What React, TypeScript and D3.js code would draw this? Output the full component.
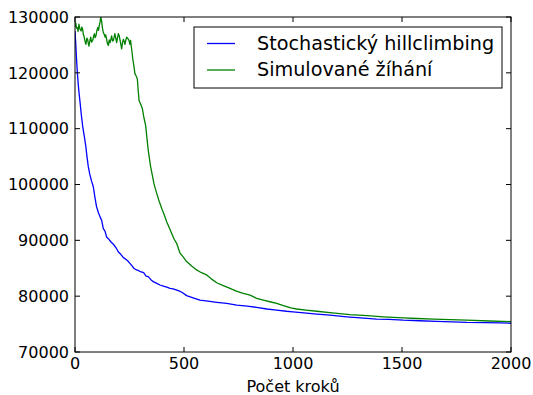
import * as d3 from "d3";

// Stochastic hill climbing: step -> cost
const hillSteps = [
  0, 3, 7, 11, 17, 23, 29, 35, 42, 49, 55, 61, 68, 76, 84, 91, 99, 108, 115, 122,
  130, 138, 145, 153, 165, 176, 191, 199, 210, 222, 233, 245, 258, 270, 282, 290,
  300, 315, 326, 336, 347, 359, 375, 390, 405, 421, 436, 450, 474, 490, 512, 535,
  573, 610, 650, 696, 742, 790, 833, 880, 925, 970, 1000, 1050, 1109, 1170, 1246,
  1310, 1384, 1440, 1506, 1580, 1659, 1730, 1797, 1880, 1950, 2000,
];
const hillCost = [
  127500, 125500, 122500, 119900, 117000, 114800, 112500, 110500, 108800, 107000,
  105000, 103200, 101800, 100600, 99600, 97800, 96000, 94900, 94200, 93600,
  92100, 91600, 90600, 90300, 89700, 89300, 88500, 87900, 87500, 86900,
  86600, 86200, 85600, 85000, 84700, 84600, 84400, 84200, 83600, 83500,
  83000, 82600, 82300, 82000, 81800, 81600, 81400, 81300, 81000, 80700,
  80100, 79800, 79300, 79100, 78900, 78700, 78400, 78200, 78000, 77700,
  77500, 77300, 77200, 77000, 76800, 76600, 76300, 76100, 75900, 75850,
  75700, 75600, 75500, 75400, 75300, 75250, 75200, 75150,
];

// Simulated annealing: step -> cost
const annealSteps = [
  0, 3, 7, 11, 14, 18, 22, 28, 31, 35, 38, 41, 45, 50, 54, 58, 61, 64, 68, 72,
  76, 81, 85, 89, 92, 96, 100, 104, 108, 111, 115, 118, 122, 126, 130, 134, 138,
  141, 145, 149, 153, 157, 161, 165, 168, 172, 176, 180, 183, 187, 191, 195, 199,
  203, 206, 210, 214, 218, 222, 226, 229, 233, 237, 241, 245, 249, 252, 255, 258,
  262, 265, 270, 275, 280, 286, 290, 294, 300, 309, 316, 324, 330, 336, 342, 347,
  355, 362, 368, 375, 386, 398, 410, 421, 433, 444, 455, 467, 482, 497, 512, 535,
  558, 580, 604, 625, 650, 680, 711, 740, 772, 803, 833, 864, 894, 925, 956, 990,
  1017, 1060, 1109, 1180, 1261, 1340, 1414, 1460, 1506, 1570, 1644, 1720, 1797,
  1900, 2000,
];
const annealCost = [
  128200, 129000, 128000, 128100, 127400, 128700, 127900, 127500, 128200, 127800,
  126900, 126600, 125800, 125100, 126200, 126000, 125300, 124800, 125700, 126400,
  125500, 125800, 126500, 127000, 126300, 126600, 127500, 128100, 127600, 128400,
  129100, 130000, 129300, 128000, 127200, 126900, 126400, 126800, 126000, 125200,
  124900, 125900, 125400, 126100, 126600, 125700, 125800, 126500, 127000, 126200,
  125400, 126300, 127000, 126600, 126000, 125200, 124300, 125400, 126000, 125600,
  125100, 125800, 126400, 126200, 126000, 125600, 125100, 125800, 124800, 123600,
  122500, 121300, 119800, 119500, 118900, 116800, 115000, 114500, 113600, 112000,
  110600, 108300, 106100, 104500, 103200, 101600, 100200, 99300, 98400, 97000,
  95700, 94500, 93300, 92200, 91200, 90200, 89400, 87700, 87000, 86200,
  85400, 84700, 84200, 83800, 83100, 82400, 81900, 81400, 80900, 80500,
  80200, 79600, 79300, 79000, 78700, 78300, 77900, 77700, 77500, 77300,
  77000, 76700, 76500, 76300, 76200, 76100, 76000, 75900, 75800, 75700,
  75550, 75450,
];

const xTicks = [0, 500, 1000, 1500, 2000];
const yTicks = [70000, 80000, 90000, 100000, 110000, 120000, 130000];
const seriesNames = ["Stochastický hillclimbing", "Simulované žíhání"];
const xLabel = "Počet kroků";

const W = 533;
const H = 395;
const left = 75;
const right = 511;
const top = 17;
const bottom = 352;
const font = "'DejaVu Sans', sans-serif";

export default function App() {
  const x = d3.scaleLinear().domain([0, 2000]).range([left, right]);
  const y = d3.scaleLinear().domain([70000, 130000]).range([bottom, top]);

  const line = d3
    .line<[number, number]>()
    .x((d) => x(d[0]))
    .y((d) => y(d[1]));

  const hill = line(hillSteps.map((s, i) => [s, hillCost[i]] as [number, number])) ?? "";
  const anneal = line(annealSteps.map((s, i) => [s, annealCost[i]] as [number, number])) ?? "";

  const colors = ["#0000ff", "#008000"];
  const tickLen = 5;

  return (
    <div style={{ position: "absolute", left: 0, top: 0, background: "#fff" }}>
      <svg width={W} height={H} viewBox={`0 0 ${W} ${H}`} fontFamily={font}>
        <rect x={0} y={0} width={W} height={H} fill="#fff" />
        <defs>
          <clipPath id="plot">
            <rect x={left} y={top} width={right - left} height={bottom - top} />
          </clipPath>
        </defs>

        <g clipPath="url(#plot)" fill="none" strokeWidth={1.3} strokeLinejoin="round">
          <path d={hill} stroke={colors[0]} />
          <path d={anneal} stroke={colors[1]} />
        </g>

        {/* ticks, inside on all four sides */}
        <g stroke="#000" strokeWidth={1}>
          {xTicks.map((t) => (
            <g key={`xt${t}`}>
              <line x1={x(t)} x2={x(t)} y1={bottom} y2={bottom - tickLen} />
              <line x1={x(t)} x2={x(t)} y1={top} y2={top + tickLen} />
            </g>
          ))}
          {yTicks.map((t) => (
            <g key={`yt${t}`}>
              <line x1={left} x2={left + tickLen} y1={y(t)} y2={y(t)} />
              <line x1={right} x2={right - tickLen} y1={y(t)} y2={y(t)} />
            </g>
          ))}
        </g>

        <rect
          x={left}
          y={top}
          width={right - left}
          height={bottom - top}
          fill="none"
          stroke="#000"
          strokeWidth={1}
        />

        <g fontSize={16} fill="#000">
          {xTicks.map((t) => (
            <text key={`xl${t}`} x={x(t)} y={bottom + 17} textAnchor="middle">
              {t}
            </text>
          ))}
          {yTicks.map((t) => (
            <text key={`yl${t}`} x={left - 6} y={y(t) + 5.8} textAnchor="end">
              {t}
            </text>
          ))}
          <text x={(left + right) / 2} y={391.5} textAnchor="middle">
            {xLabel}
          </text>
        </g>

        {/* legend */}
        <g>
          <rect x={194} y={27} width={308} height={61} fill="#fff" stroke="#000" strokeWidth={1} />
          {seriesNames.map((name, i) => (
            <g key={name}>
              <line
                x1={207}
                x2={235}
                y1={43.5 + i * 26.5}
                y2={43.5 + i * 26.5}
                stroke={colors[i]}
                strokeWidth={1.3}
              />
              <text x={257} y={49.5 + i * 26.5} fontSize={19.2}>
                {name}
              </text>
            </g>
          ))}
        </g>
      </svg>
    </div>
  );
}
